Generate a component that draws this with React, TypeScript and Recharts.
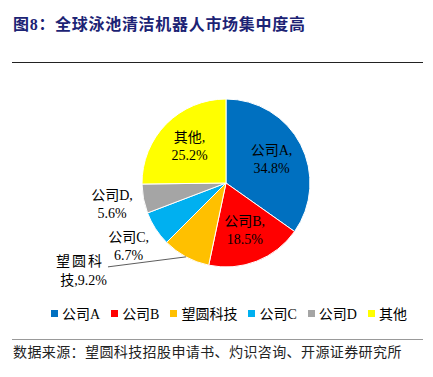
import { PieChart, Pie, Cell, Legend } from 'recharts'

const companies = ['公司A', '公司B', '望圆科技', '公司C', '公司D', '其他']
const shares = [34.8, 18.5, 9.2, 6.7, 5.6, 25.2]
const colors = ['#0070C0', '#FF0000', '#FFC000', '#00B0F0', '#A5A5A5', '#FFFF00']
// how each label sits: inside the slice, just outside it, or off to the left with a leader line
const placement = ['inside', 'inside', 'leader', 'outside', 'outside', 'inside']

const TITLE = '图8：全球泳池清洁机器人市场集中度高'
const SOURCE = '数据来源：望圆科技招股申请书、灼识咨询、开源证券研究所'

const pieData = companies.map((name, i) => ({ name, value: shares[i] }))

const RAD = Math.PI / 180
const labelFont = "'Liberation Serif', 'Noto Sans CJK SC', serif"

const renderLabel = (props: any) => {
  const { cx, cy, midAngle, outerRadius, index } = props
  const cos = Math.cos(-midAngle * RAD)
  const sin = Math.sin(-midAngle * RAD)
  const name = companies[index]
  const pct = `${shares[index].toFixed(1)}%`
  const mode = placement[index]

  if (mode === 'leader') {
    const sx = cx + outerRadius * cos
    const sy = cy + outerRadius * sin
    const ex = sx - 78
    const ey = sy + 10
    return (
      <g>
        <path d={`M${sx},${sy}L${ex},${ey}`} stroke="#333" strokeWidth={0.8} fill="none" />
        <text x={ex - 4} y={ey - 5} textAnchor="end" dominantBaseline="central" fontSize={14} fill="#000" fontFamily={labelFont} letterSpacing={2}>
          {name.slice(0, 3)}
        </text>
        <text x={ex - 1} y={ey + 14} textAnchor="end" dominantBaseline="central" fontSize={14} fill="#000" fontFamily={labelFont}>
          {`${name.slice(3)},${pct}`}
        </text>
      </g>
    )
  }

  const r = mode === 'inside' ? outerRadius * 0.61 : outerRadius + 32
  const x = cx + r * cos
  const y = cy + r * sin
  return (
    <text x={x} y={y} textAnchor="middle" fontSize={14} fill="#000" fontFamily={labelFont}>
      <tspan x={x} dy={-9} dominantBaseline="central">{`${name},`}</tspan>
      <tspan x={x} dy={18} dominantBaseline="central">{pct}</tspan>
    </text>
  )
}

const LegendRow = () => (
  <div style={{ display: 'flex', alignItems: 'center', fontSize: 14, color: '#000', whiteSpace: 'nowrap' }}>
    {companies.map((name, i) => (
      <span key={name} style={{ display: 'inline-flex', alignItems: 'center', marginRight: 11 }}>
        <span style={{ display: 'inline-block', width: 7, height: 7, background: colors[i], marginRight: 4 }} />
        {name}
      </span>
    ))}
  </div>
)

export default function App() {
  return (
    <div style={{ position: 'absolute', left: 0, top: 0, width: 433, height: 377, background: '#fff', fontFamily: labelFont }}>
      <div style={{ position: 'absolute', left: 13, top: 15, height: 20, lineHeight: '20px', fontSize: 16, fontWeight: 'bold', color: '#1c2374', letterSpacing: 0.7, whiteSpace: 'nowrap' }}>
        {TITLE}
      </div>
      <div style={{ position: 'absolute', left: 12, top: 62, width: 411, height: 1, background: '#222' }} />
      <div style={{ position: 'absolute', left: 0, top: 0 }}>
        <PieChart width={433} height={330} margin={{ top: 0, right: 0, bottom: 0, left: 0 }}>
          <Pie
            data={pieData}
            dataKey="value"
            nameKey="name"
            cx={226}
            cy={183}
            outerRadius={84}
            startAngle={90}
            endAngle={-270}
            stroke="#fff"
            strokeWidth={1}
            label={renderLabel}
            labelLine={false}
            isAnimationActive={false}
          >
            {pieData.map((d, i) => (
              <Cell key={d.name} fill={colors[i]} />
            ))}
          </Pie>
          <Legend
            verticalAlign="bottom"
            align="left"
            content={() => <LegendRow />}
            wrapperStyle={{ left: 51, top: 303, width: 380, height: 18 }}
          />
        </PieChart>
      </div>
      <div style={{ position: 'absolute', left: 12, top: 339, width: 411, height: 1, background: '#999' }} />
      <div style={{ position: 'absolute', left: 13, top: 344, height: 18, lineHeight: '18px', fontSize: 14, color: '#222', letterSpacing: 0.4, whiteSpace: 'nowrap' }}>
        {SOURCE}
      </div>
    </div>
  )
}
